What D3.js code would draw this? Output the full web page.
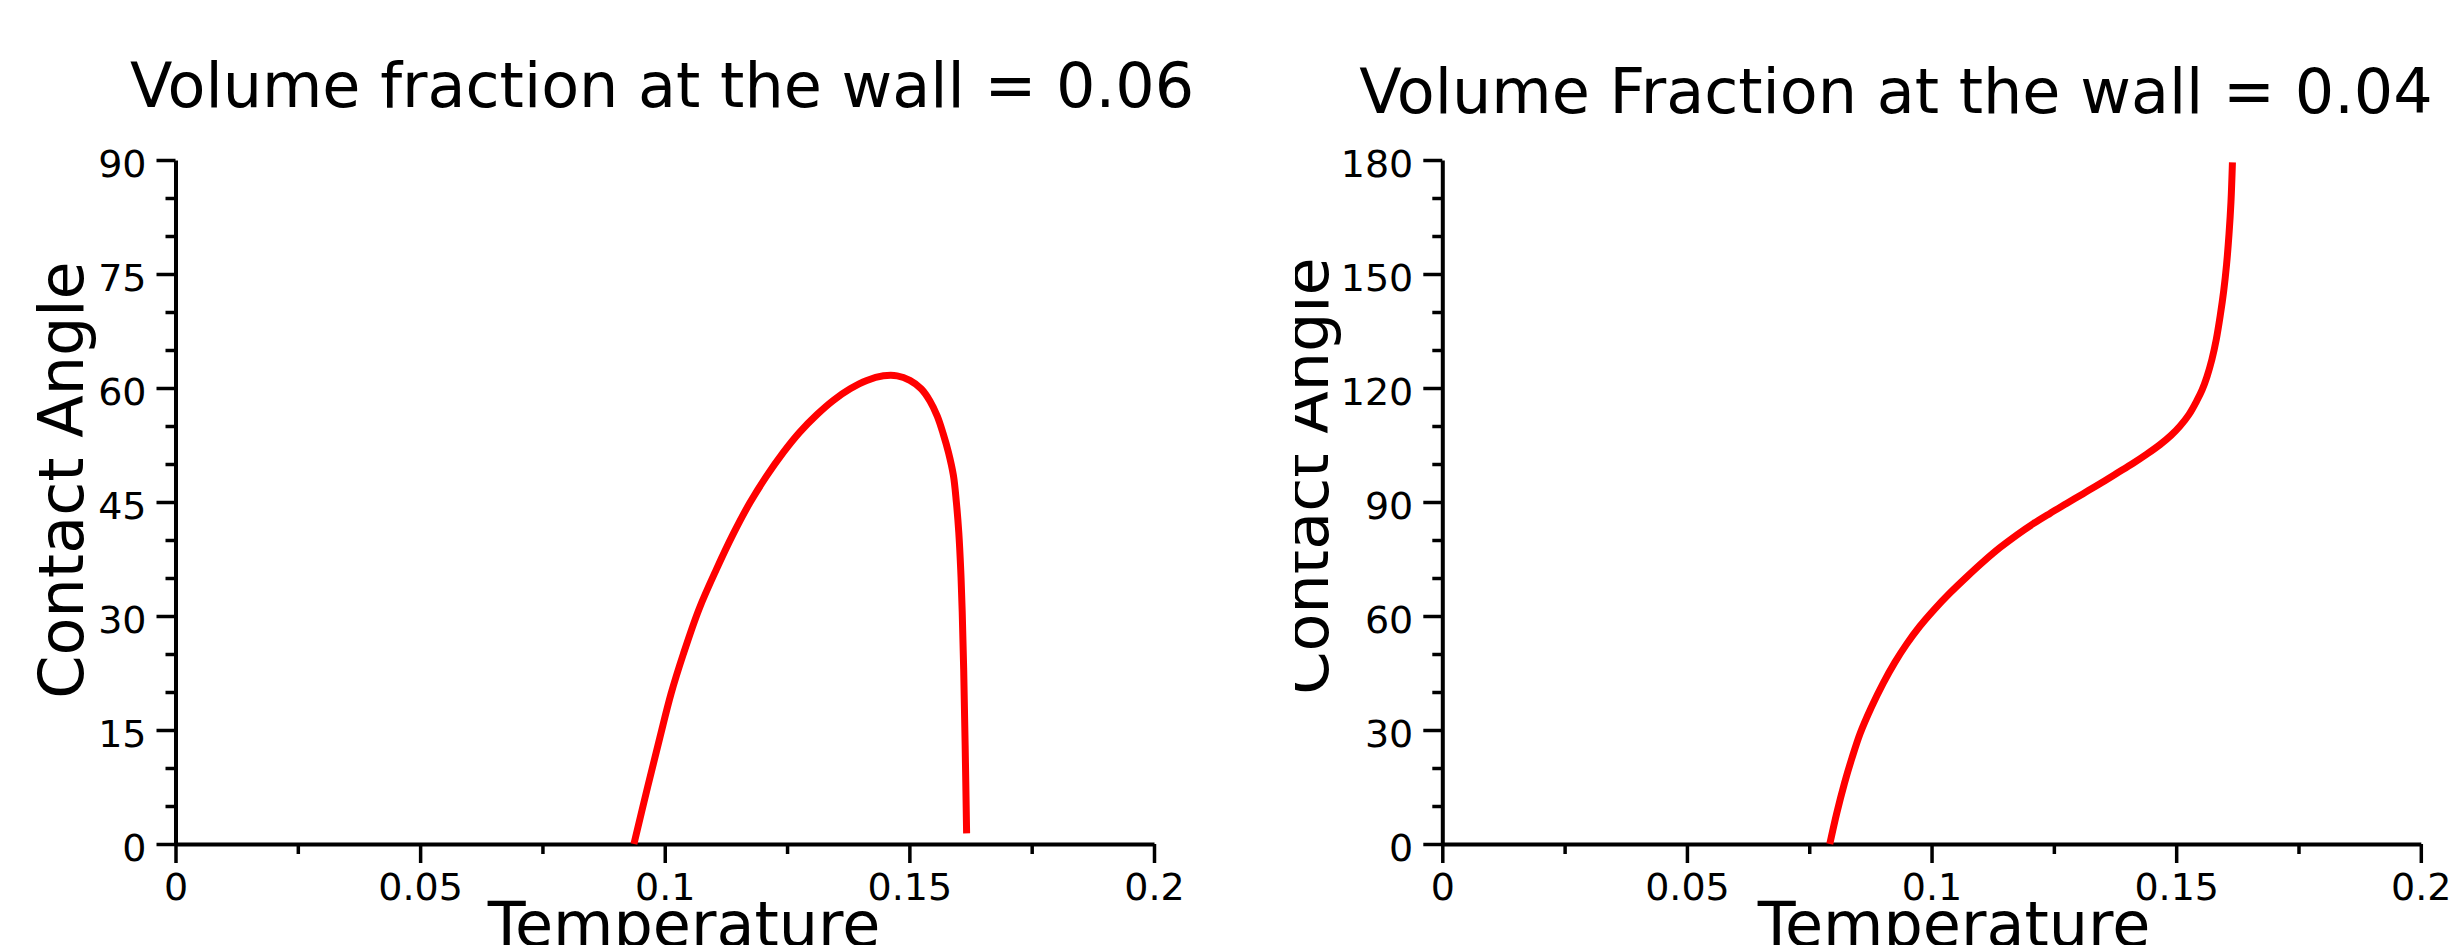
<!DOCTYPE html>
<html>
<head>
<meta charset="utf-8">
<script src="https://cdn.jsdelivr.net/npm/d3@7"></script>
<style>
  html, body { margin: 0; padding: 0; background: #fff; }
  svg { display: block; }
  text { font-family: "DejaVu Sans", sans-serif; fill: #000; }
</style>
</head>
<body>
<svg id="chart" width="2456" height="945"></svg>
<script>
// ---- data ----
const titles = ["Volume fraction at the wall = 0.06", "Volume Fraction at the wall = 0.04"];
const xLabel = "Temperature";
const yLabel = "Contact Angle";

const xTicks = [0, 0.05, 0.1, 0.15, 0.2];
const xTickLabels = ["0", "0.05", "0.1", "0.15", "0.2"];
const xMinorTicks = [0.025, 0.075, 0.125, 0.175];

const leftYTicks = [0, 15, 30, 45, 60, 75, 90];
const leftYMinor = [5, 10, 20, 25, 35, 40, 50, 55, 65, 70, 80, 85];
const rightYTicks = [0, 30, 60, 90, 120, 150, 180];
const rightYMinor = [10, 20, 40, 50, 70, 80, 100, 110, 130, 140, 160, 170];

const leftTemperature = [0.0937, 0.0965, 0.0990, 0.1013, 0.1038, 0.1070, 0.1106, 0.1140, 0.1174, 0.1208, 0.1242, 0.1276, 0.1311, 0.1345, 0.1379, 0.1413, 0.1447, 0.1475, 0.1501, 0.1524, 0.1542, 0.1557, 0.1569, 0.1580, 0.1590, 0.1596, 0.1601, 0.1605, 0.1608, 0.1611, 0.1614, 0.1617];
const leftAngle       = [0,      7.5,    14.0,   19.8,   25.0,   30.9,   36.2,   40.8,   44.9,   48.4,   51.5,   54.2,   56.5,   58.4,   59.9,   61.0,   61.6,   61.6,   61.0,   59.9,   58.3,   56.3,   54.0,   51.5,   48.5,   45.0,   41.0,   36.0,   30.5,   23.0,   13.0,   1.4];

const rightTemperature = [0.0792, 0.0806, 0.0822, 0.0837, 0.0854, 0.0877, 0.0901, 0.0925, 0.0949, 0.0976, 0.1004, 0.1038, 0.1072, 0.1106, 0.1140, 0.1174, 0.1208, 0.1242, 0.1276, 0.1310, 0.1344, 0.1378, 0.1412, 0.1440, 0.1467, 0.1490, 0.1508, 0.1526, 0.1542, 0.1553, 0.1563, 0.1573, 0.1582, 0.1590, 0.1597, 0.1603, 0.1608, 0.1612, 0.1615];
const rightAngle       = [0,      8.0,    16.0,   22.5,   29.1,   36.0,   42.3,   47.8,   52.6,   57.3,   61.5,   66.1,   70.3,   74.3,   78.0,   81.3,   84.3,   87.0,   89.6,   92.2,   94.8,   97.5,   100.2,  102.6,  105.1,  107.6,  110.0,  113.0,  116.6,  119.5,  123.0,  127.5,  132.8,  139.0,  145.4,  152.5,  160.5,  169.0,  179.4];

// ---- layout ----
const svg = d3.select("#chart");
const panels = [
  { x0: 175.5, x1: 1154, yMax: 90, ticks: leftYTicks, minor: leftYMinor,
    T: leftTemperature, A: leftAngle, title: titles[0], titleX: 662, titleY: 107,
    xLabX: 684, yLabX: 83, yLabY: 480, clipX: 0 },
  { x0: 1442.3, x1: 2420.8, yMax: 180, ticks: rightYTicks, minor: rightYMinor,
    T: rightTemperature, A: rightAngle, title: titles[1], titleX: 1896, titleY: 113,
    xLabX: 1954, yLabX: 1328, yLabY: 476, clipX: 1295 }
];
const yTop = 160, yBot = 844;

const defs = svg.append("defs");

panels.forEach((p, i) => {
  defs.append("clipPath").attr("id", "clip" + i)
    .append("rect").attr("x", p.clipX).attr("y", 0)
    .attr("width", (i === 0 ? 1295 : 2456) - p.clipX).attr("height", 945);

  const g = svg.append("g").attr("clip-path", `url(#clip${i})`);
  const x = d3.scaleLinear().domain([0, 0.2]).range([p.x0, p.x1]);
  const y = d3.scaleLinear().domain([0, p.yMax]).range([yBot, yTop]);

  // minor ticks
  const xMinorAxis = d3.axisBottom(x).tickValues(xMinorTicks).tickSize(10).tickSizeOuter(0).tickFormat("");
  g.append("g").attr("transform", `translate(0,${yBot})`).call(xMinorAxis)
    .call(s => s.select(".domain").remove())
    .call(s => s.selectAll("line").attr("stroke-width", 3.5));
  const yMinorAxis = d3.axisLeft(y).tickValues(p.minor).tickSize(10).tickSizeOuter(0).tickFormat("");
  g.append("g").attr("transform", `translate(${p.x0},0)`).call(yMinorAxis)
    .call(s => s.select(".domain").remove())
    .call(s => s.selectAll("line").attr("stroke-width", 3.5));

  // major axes
  const xAxis = d3.axisBottom(x).tickValues(xTicks).tickSize(19).tickSizeOuter(0).tickPadding(10)
    .tickFormat((d, k) => xTickLabels[k]);
  g.append("g").attr("transform", `translate(0,${yBot})`).call(xAxis)
    .call(s => s.select(".domain").attr("stroke-width", 4))
    .call(s => s.selectAll("line").attr("stroke-width", 3.5))
    .call(s => s.selectAll("text").attr("font-size", 38).attr("font-family", "DejaVu Sans"));

  const yAxis = d3.axisLeft(y).tickValues(p.ticks).tickSize(19).tickSizeOuter(0).tickPadding(10);
  g.append("g").attr("transform", `translate(${p.x0},0)`).call(yAxis)
    .call(s => s.select(".domain").attr("stroke-width", 4))
    .call(s => s.selectAll("line").attr("stroke-width", 3.5))
    .call(s => s.selectAll("text").attr("font-size", 38).attr("font-family", "DejaVu Sans").attr("dy", "0.44em"));

  // curve
  const pts = p.T.map((t, k) => [t, p.A[k]]);
  const line = d3.line().x(d => x(d[0])).y(d => y(d[1])).curve(d3.curveCatmullRom.alpha(0.5));
  g.append("path").datum(pts).attr("d", line)
    .attr("fill", "none").attr("stroke", "#ff0000").attr("stroke-width", 7)
    .attr("stroke-linejoin", "round").attr("stroke-linecap", "butt");

  // labels
  g.append("text").attr("x", p.titleX).attr("y", p.titleY).attr("text-anchor", "middle")
    .attr("font-size", 62).text(p.title);
  g.append("text").attr("x", p.xLabX).attr("y", 946).attr("text-anchor", "middle")
    .attr("font-size", 62).text(xLabel);
  g.append("text").attr("transform", `translate(${p.yLabX},${p.yLabY}) rotate(-90)`)
    .attr("text-anchor", "middle").attr("font-size", 62).text(yLabel);
});
</script>
</body>
</html>
